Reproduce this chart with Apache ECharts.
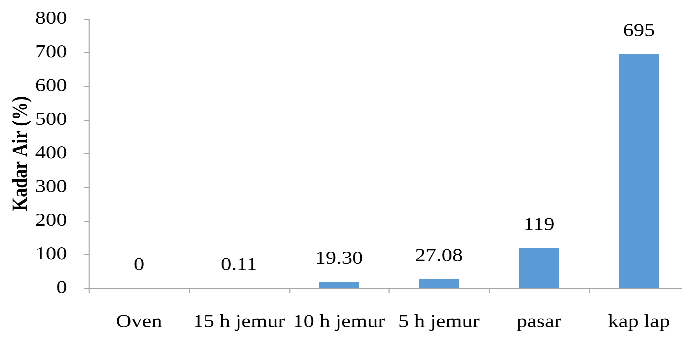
<!DOCTYPE html>
<html>
<head>
<meta charset="utf-8">
<style>
  html, body { margin: 0; padding: 0; background: #fff; overflow: hidden; }
  #wrap { width: 682px; height: 338px; overflow: hidden; }
  #chart { height: 338px; transform-origin: 0 0; }
</style>
<script src="https://cdn.jsdelivr.net/npm/echarts@6/dist/echarts.min.js"></script>
</head>
<body>
<div id="wrap"><div id="chart"></div></div>
<script>
// Moisture content per drying treatment
const categories = ['Oven', '15 h jemur', '10 h jemur', '5 h jemur', 'pasar', 'kap lap'];
const kadarAir = [0, 0.11, 19.30, 27.08, 119, 695];
// decimals shown in each bar's value label
const labelDecimals = [0, 2, 2, 2, 0, 0];

// The figure uses a wide, horizontally stretched serif face; the chart is laid
// out at a narrower width and stretched by this factor.
const SCALE_X = 1.18;
const OUT_W = 682;
const innerW = OUT_W / SCALE_X;

const el = document.getElementById('chart');
el.style.width = innerW + 'px';
el.style.transform = 'scaleX(' + SCALE_X + ')';

const FONT = '"Liberation Serif", "Times New Roman", serif';
const AXIS_COLOR = '#a6a6a6';
const sx = (px) => px / SCALE_X;   // horizontal output pixels -> layout pixels

const chart = echarts.init(el, null, { renderer: 'canvas', devicePixelRatio: 3, width: innerW, height: 338 });

chart.setOption({
  animation: false,
  backgroundColor: '#ffffff',
  textStyle: { fontFamily: FONT, color: '#000' },
  grid: {
    left: sx(89),
    right: innerW - sx(688.5),
    top: 19,
    bottom: 49.7,
    containLabel: false,
    outerBoundsMode: 'none'
  },
  xAxis: {
    type: 'category',
    data: categories,
    axisLine: { show: true, lineStyle: { color: AXIS_COLOR, width: 1 } },
    axisTick: { show: true, alignWithLabel: false, length: 5, lineStyle: { color: AXIS_COLOR, width: sx(1) } },
    axisLabel: { fontFamily: FONT, fontSize: 18, color: '#000', margin: 25, interval: 0 },
    splitLine: { show: false }
  },
  yAxis: {
    type: 'value',
    min: 0,
    max: 800,
    interval: 100,
    name: 'Kadar Air (%)',
    nameLocation: 'middle',
    nameGap: sx(57),
    nameRotate: 90,
    nameMoveOverlap: false,
    nameTextStyle: { fontFamily: FONT, fontSize: 18, fontWeight: 'bold', color: '#000' },
    axisLine: { show: true, lineStyle: { color: AXIS_COLOR, width: sx(1) } },
    axisTick: { show: true, inside: false, length: sx(5), lineStyle: { color: AXIS_COLOR, width: 1 } },
    axisLabel: { fontFamily: FONT, fontSize: 18, color: '#000', margin: sx(22) },
    splitLine: { show: false }
  },
  series: [{
    type: 'bar',
    data: kadarAir,
    barWidth: sx(40),
    itemStyle: { color: '#5b9bd5' },
    label: {
      show: true,
      position: 'top',
      distance: 14,
      fontFamily: FONT,
      fontSize: 18,
      color: '#000',
      formatter: (p) => p.value.toFixed(labelDecimals[p.dataIndex])
    }
  }]
});
</script>
</body>
</html>
